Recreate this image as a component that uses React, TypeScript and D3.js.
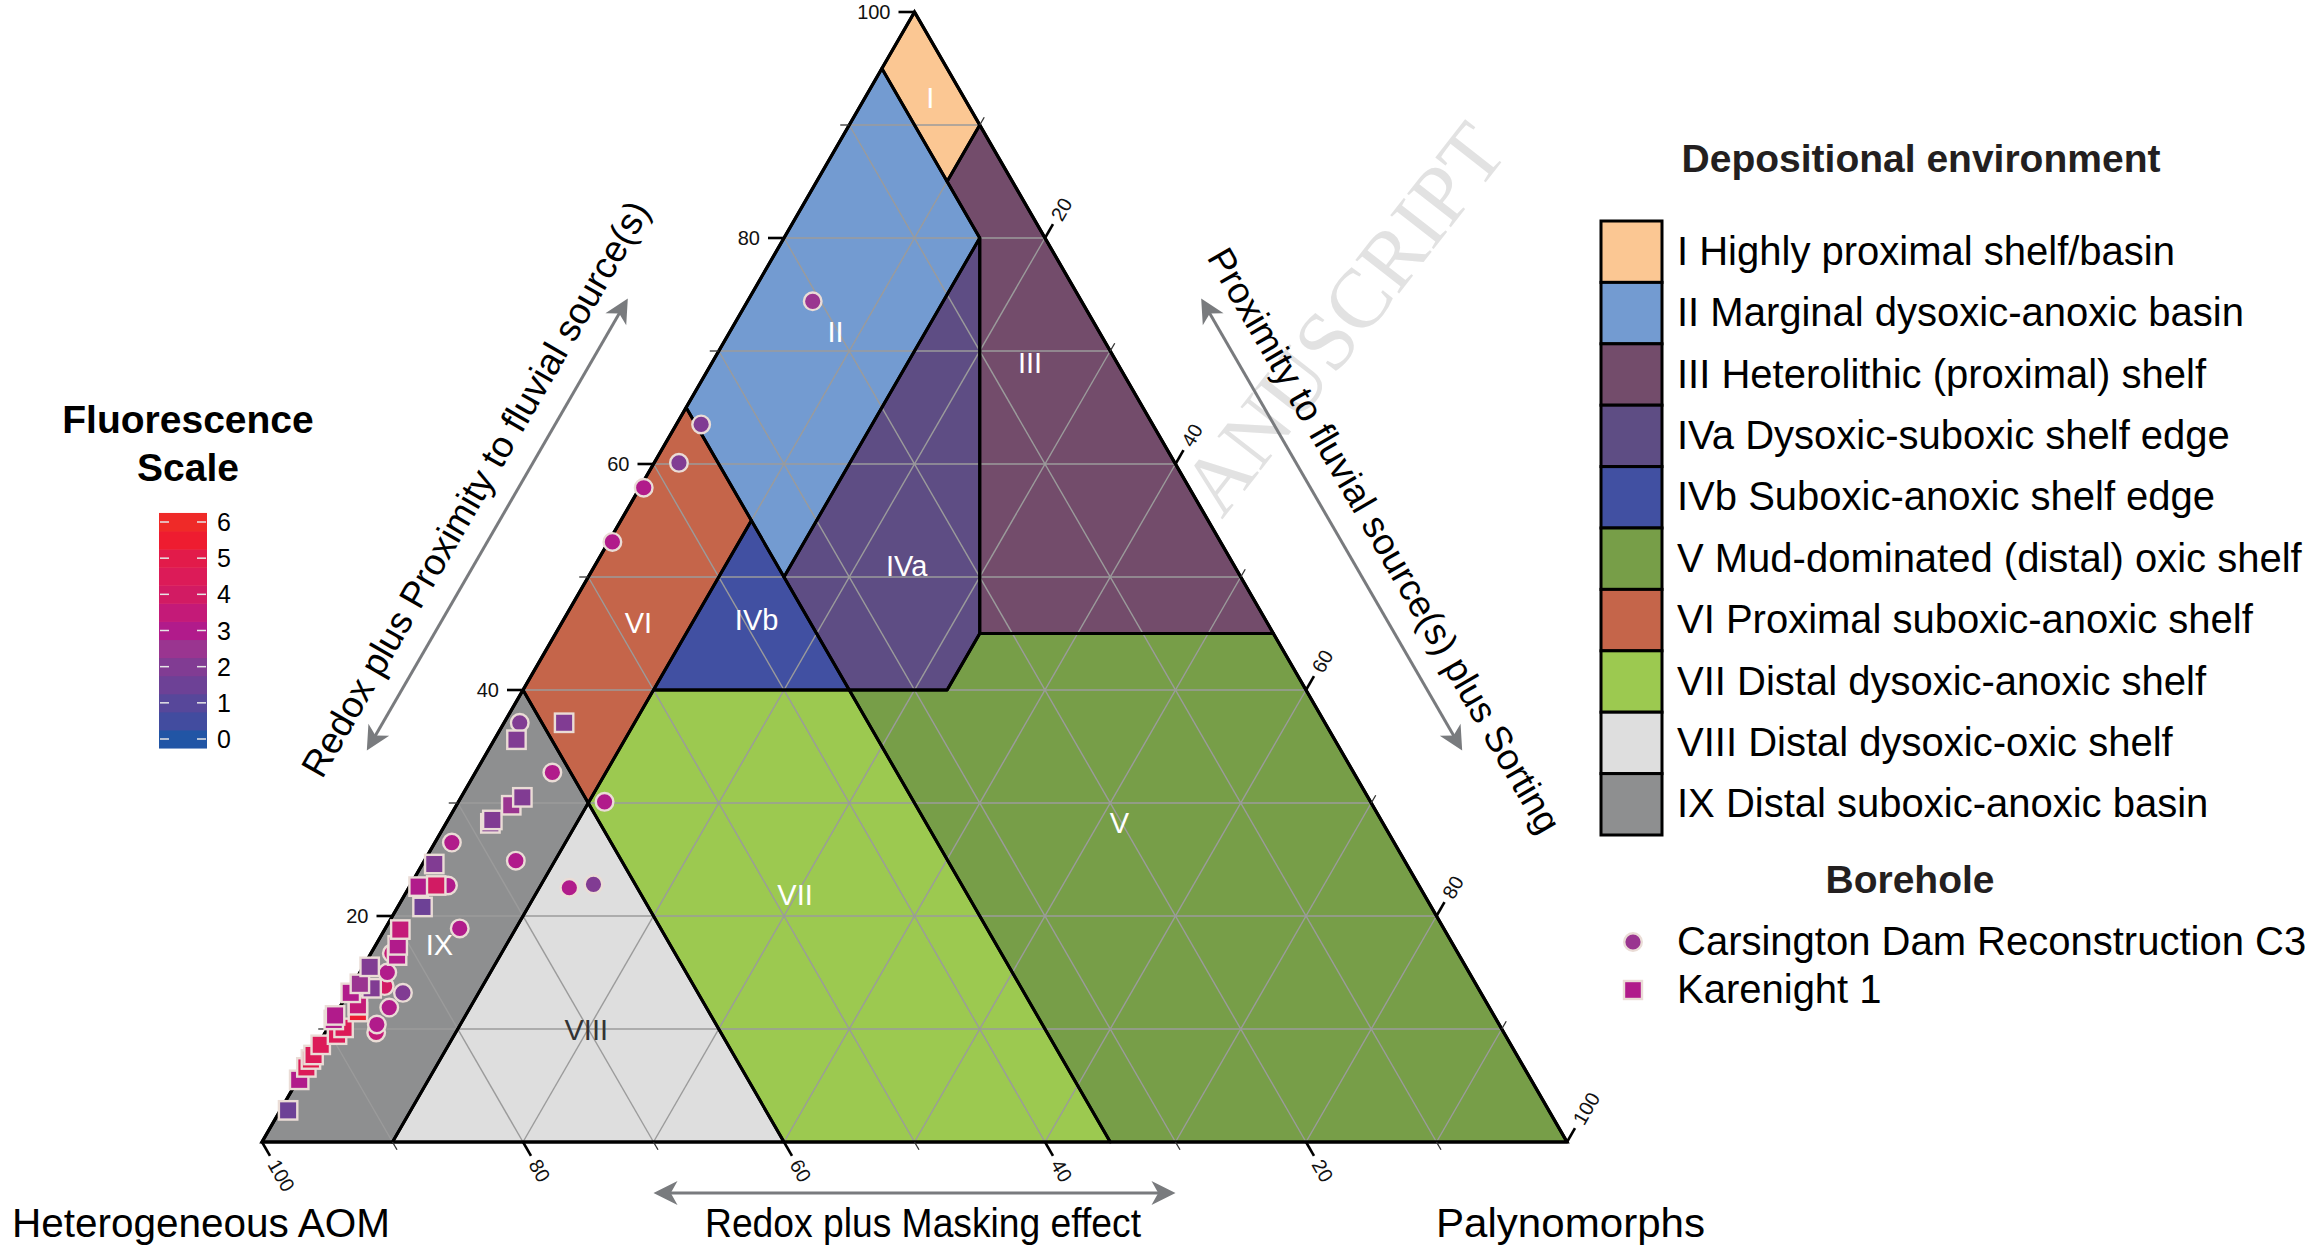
import React from 'react';
import * as d3 from 'd3';

// ---------------- data ----------------
const gridPercents = [10, 20, 30, 40, 50, 60, 70, 80, 90];
const majorTicks = [20, 40, 60, 80, 100];
const minorTicks = [10, 30, 50, 70, 90];

const zoneNames = ['I', 'II', 'III', 'IVa', 'IVb', 'V', 'VI', 'VII', 'VIII', 'IX'];
const zoneLegendLabels = [
  'I Highly proximal shelf/basin',
  'II Marginal dysoxic-anoxic basin',
  'III Heterolithic (proximal) shelf',
  'IVa Dysoxic-suboxic shelf edge',
  'IVb Suboxic-anoxic shelf edge',
  'V Mud-dominated (distal) oxic shelf',
  'VI Proximal suboxic-anoxic shelf',
  'VII Distal dysoxic-anoxic shelf',
  'VIII Distal dysoxic-oxic shelf',
  'IX Distal suboxic-anoxic basin',
];
const zoneFills = ['#fbc793', '#739bd1', '#734c6b', '#5e4d84', '#4150a2', '#779e48', '#c5654a', '#9cc950', '#dedede', '#8e8f90'];
const zoneLabelFills = ['#ffffff', '#ffffff', '#ffffff', '#ffffff', '#ffffff', '#ffffff', '#ffffff', '#ffffff', '#333333', '#ffffff'];

// zone vertices as [phytoclast %, palynomorph %] (AOM = remainder)
const zoneI = [[100, 0], [95, 0], [85, 10], [90, 10]];
const zoneII = [[95, 0], [85, 10], [80, 15], [50, 15], [65, 0]];
const zoneIII = [[90, 10], [85, 10], [80, 15], [45, 32.5], [45, 55]];
const zoneIVa = [[80, 15], [45, 32.5], [40, 32.5], [40, 25], [50, 15]];
const zoneIVb = [[55, 10], [40, 10], [40, 25]];
const zoneV = [[45, 55], [45, 32.5], [40, 32.5], [40, 25], [0, 65], [0, 100]];
const zoneVI = [[65, 0], [55, 10], [30, 10], [40, 0]];
const zoneVII = [[40, 10], [40, 25], [0, 65], [0, 40], [30, 10]];
const zoneVIII = [[30, 10], [0, 40], [0, 10]];
const zoneIX = [[40, 0], [30, 10], [0, 10], [0, 0]];
const zonePolygons = [zoneI, zoneII, zoneIII, zoneIVa, zoneIVb, zoneV, zoneVI, zoneVII, zoneVIII, zoneIX];
const zoneLabelAt = [[92.4, 5], [71.7, 8.1], [68.9, 24.4], [51, 23.9], [46.2, 14.8], [28.2, 51.6], [45.9, 5.9], [21.9, 29.9], [9.9, 19.9], [17.4, 4.9]];

// Carsington Dam Reconstruction C3 (circles)
const carsingtonPhyto = [37.1, 32.7, 30.1, 26.5, 24.9, 22.5, 22.8, 22.7, 18.9, 16.7, 15.0, 13.8, 13.2, 11.9, 10.4, 9.7, 74.4, 63.5, 60.1, 57.9, 53.1];
const carsingtonPaly = [1.2, 5.9, 11.2, 1.3, 7.0, 12.3, 14.0, 2.9, 5.7, 1.6, 2.1, 2.5, 4.2, 3.8, 3.6, 3.9, 5.0, 1.9, 1.9, 0.3, 0.3];
const carsingtonFluor = [2, 3, 3, 3, 3, 3, 2, 3, 3, 3.5, 3, 4, 2, 3, 3, 3.5, 2.5, 2, 2, 3, 3];

// Karenight 1 (squares)
const karenightPhyto = [37.1, 35.6, 30.5, 29.8, 28.5, 28.2, 24.6, 22.7, 22.6, 20.8, 18.8, 17.4, 16.5, 15.5, 14.0, 13.6, 13.2, 12.1, 11.5, 11.2, 10.8, 10.1, 9.5, 8.6, 7.7, 7.3, 6.6, 5.5, 2.8];
const karenightPaly = [4.6, 1.7, 4.7, 4.2, 3.4, 3.4, 0.9, 2.0, 0.7, 1.9, 1.2, 1.7, 2.1, 0.5, 0.5, 1.6, 0.2, 1.3, 1.6, 0.0, 0.1, 1.2, 1.0, 0.2, 0.1, 0.1, 0.1, 0.1, 0.6];
const karenightFluor = [2, 2, 2, 2.5, 2, 2, 2, 4, 3, 1.5, 3.5, 3, 3, 2, 2.5, 2, 3, 3.5, 5.5, 3, 3, 4.5, 4.5, 4.5, 4.5, 5, 4.5, 3, 1.5];

// Fluorescence colour scale
const fluorTicks = [0, 1, 2, 3, 4, 5, 6];
const fluorBandValues = [0, 0.5, 1, 1.5, 2, 2.5, 3, 3.5, 4, 4.5, 5, 5.5, 6];
const fluorBandColors = ['#2155a5', '#424c9f', '#57479a', '#6d4196', '#813c93', '#9a3590', '#b11b8b', '#c41a78', '#d21b63', '#dc1b58', '#e21b4a', '#ee1c30', '#ef2a28'];

const FONT = 'Liberation Sans, Arial, Helvetica, sans-serif';

export default function App() {
  const x = d3.scaleLinear().domain([0, 100]).range([262, 1567]);
  const y = d3.scaleLinear().domain([0, 100]).range([1142, 12]);
  const proj = (f: number, p: number): [number, number] => [x(p + f / 2), y(f)];
  const fluorColor = d3.scaleLinear<string>().domain(fluorBandValues).range(fluorBandColors).interpolate(d3.interpolateRgb);
  const cb = d3.scaleLinear().domain([0, 6]).range([739, 522]);
  const lineGen = d3.line();
  const polyPath = (pts: number[][]) => lineGen(pts.map(([f, p]) => proj(f, p))) + 'Z';

  // grid lines
  const grid: [number, number][][] = [];
  gridPercents.forEach((v) => {
    grid.push([proj(v, 0), proj(v, 100 - v)]);
    grid.push([proj(0, v), proj(100 - v, v)]);
    grid.push([proj(100 - v, 0), proj(0, 100 - v)]);
  });

  // axes definitions
  const s3 = Math.sqrt(3) / 2;
  const axes = [
    { base: (v: number) => proj(v, 0), dir: [-1, 0], rot: 0, anchor: 'end' },
    { base: (v: number) => proj(100 - v, v), dir: [0.5, -s3], rot: -60, anchor: 'start' },
    { base: (v: number) => proj(0, 100 - v), dir: [0.5, s3], rot: 60, anchor: 'start' },
  ];

  const circles = carsingtonPhyto
    .map((f, i) => ({ f, p: carsingtonPaly[i], v: carsingtonFluor[i] }))
    .sort((a, b) => a.f - b.f);
  const squares = karenightPhyto
    .map((f, i) => ({ f, p: karenightPaly[i], v: karenightFluor[i] }))
    .sort((a, b) => a.f - b.f);

  const arrowColor = '#797b7e';
  const Arrow = ({ a, b }: { a: [number, number]; b: [number, number] }) => {
    const dx = b[0] - a[0], dy = b[1] - a[1];
    const L = Math.hypot(dx, dy);
    const ux = dx / L, uy = dy / L, nx = -uy, ny = ux;
    const hl = 24, hw = 12;
    const head = (t: [number, number], sx: number, sy: number) =>
      `M${t[0]},${t[1]} L${t[0] + sx * hl + nx * hw},${t[1] + sy * hl + ny * hw} L${t[0] + sx * hl * 0.72},${t[1] + sy * hl * 0.72} L${t[0] + sx * hl - nx * hw},${t[1] + sy * hl - ny * hw} Z`;
    return (
      <g>
        <line x1={a[0] + ux * 12} y1={a[1] + uy * 12} x2={b[0] - ux * 12} y2={b[1] - uy * 12} stroke={arrowColor} strokeWidth={3} />
        <path d={head(a, ux, uy)} fill={arrowColor} />
        <path d={head(b, -ux, -uy)} fill={arrowColor} />
      </g>
    );
  };

  // arrows parallel to edges, spanning 30%..70% of each edge
  const offL = [-s3 * 105, -0.5 * 105];
  const offR = [s3 * 105, -0.5 * 105];
  const lA = proj(30, 0), lB = proj(70, 0);
  const leftArrow: [[number, number], [number, number]] = [[lA[0] + offL[0], lA[1] + offL[1]], [lB[0] + offL[0], lB[1] + offL[1]]];
  const rA = proj(70, 30), rB = proj(30, 70);
  const rightArrow: [[number, number], [number, number]] = [[rA[0] + offR[0], rA[1] + offR[1]], [rB[0] + offR[0], rB[1] + offR[1]]];
  const bA = proj(0, 30), bB = proj(0, 70);
  const bottomArrow: [[number, number], [number, number]] = [[bA[0], bA[1] + 51], [bB[0], bB[1] + 51]];

  const mid = (ar: [number, number][]) => [(ar[0][0] + ar[1][0]) / 2, (ar[0][1] + ar[1][1]) / 2];
  const lm = mid(leftArrow);
  const leftTitlePos = [lm[0] + 20 * 0.5 + 24 * -s3, lm[1] + 20 * -s3 + 24 * -0.5];
  const rm = mid(rightArrow);
  const rightTitlePos = [rm[0] + 40 * 0.5 + 25 * s3, rm[1] + 40 * s3 + 25 * -0.5];

  const legendTop = 221, legendStep = 61.4, swatchX = 1601, swatchW = 61;

  return (
    <svg width={2305} height={1246} style={{ position: 'absolute', left: 0, top: 0, background: '#fff' }} fontFamily={FONT}>
      <rect x={0} y={0} width={2305} height={1246} fill="#ffffff" />
      {/* watermark */}
      <text x={1222} y={520} transform="rotate(-52 1222 520)" fontFamily="Liberation Serif, Times New Roman, serif" fontSize={84} fill="#e2e2e2">
        ANUSCRIPT
      </text>

      {/* zone fills */}
      {zonePolygons.map((poly, i) => (
        <path key={'z' + i} d={polyPath(poly)} fill={zoneFills[i]} />
      ))}
      {/* grid */}
      {grid.map((g, i) => (
        <line key={'g' + i} x1={g[0][0]} y1={g[0][1]} x2={g[1][0]} y2={g[1][1]} stroke="#9b9b9b" strokeWidth={1.4} />
      ))}
      {/* zone borders */}
      {zonePolygons.map((poly, i) => (
        <path key={'zb' + i} d={polyPath(poly)} fill="none" stroke="#000" strokeWidth={3} strokeLinejoin="round" />
      ))}
      <path d={polyPath([[100, 0], [0, 0], [0, 100]])} fill="none" stroke="#000" strokeWidth={3.2} strokeLinejoin="miter" />

      {/* ticks */}
      {axes.map((ax, ai) => (
        <g key={'ax' + ai}>
          {minorTicks.map((v) => {
            const b = ax.base(v);
            return <line key={'mi' + v} x1={b[0]} y1={b[1]} x2={b[0] + ax.dir[0] * 9} y2={b[1] + ax.dir[1] * 9} stroke="#333" strokeWidth={1.3} />;
          })}
          {majorTicks.map((v) => {
            const b = ax.base(v);
            const lx = b[0] + ax.dir[0] * (ai === 0 ? 24 : 22);
            const ly = b[1] + ax.dir[1] * (ai === 0 ? 24 : 22);
            return (
              <g key={'ma' + v}>
                <line x1={b[0]} y1={b[1]} x2={b[0] + ax.dir[0] * 16} y2={b[1] + ax.dir[1] * 16} stroke="#000" strokeWidth={2.6} />
                <text x={lx} y={ly} transform={`rotate(${ax.rot} ${lx} ${ly})`} textAnchor={ax.anchor} dominantBaseline="central" fontSize={20} fill="#111">
                  {String(v)}
                </text>
              </g>
            );
          })}
        </g>
      ))}

      {/* zone labels */}
      {zoneNames.map((n, i) => {
        const [lx, ly] = proj(zoneLabelAt[i][0], zoneLabelAt[i][1]);
        return (
          <text key={'zl' + i} x={lx} y={ly} textAnchor="middle" dominantBaseline="central" fontSize={29} fill={zoneLabelFills[i]}>
            {n}
          </text>
        );
      })}

      {/* data points */}
      {circles.map((d, i) => {
        const [cx, cy] = proj(d.f, d.p);
        return <circle key={'c' + i} cx={cx} cy={cy} r={8.8} fill={fluorColor(d.v)} stroke="#eadcd6" strokeWidth={2.4} />;
      })}
      {squares.map((d, i) => {
        const [cx, cy] = proj(d.f, d.p);
        return <rect key={'s' + i} x={cx - 9.2} y={cy - 9.2} width={18.4} height={18.4} fill={fluorColor(d.v)} stroke="#eadcd6" strokeWidth={2.4} />;
      })}

      {/* arrows */}
      <Arrow a={leftArrow[0]} b={leftArrow[1]} />
      <Arrow a={rightArrow[0]} b={rightArrow[1]} />
      <Arrow a={bottomArrow[0]} b={bottomArrow[1]} />

      {/* axis titles */}
      <text x={leftTitlePos[0]} y={leftTitlePos[1]} transform={`rotate(-60 ${leftTitlePos[0]} ${leftTitlePos[1]})`} textAnchor="middle" fontSize={37} fill="#000">
        Redox plus Proximity to fluvial source(s)
      </text>
      <text x={rightTitlePos[0]} y={rightTitlePos[1]} transform={`rotate(60 ${rightTitlePos[0]} ${rightTitlePos[1]})`} textAnchor="middle" fontSize={37} fill="#000">
        Proximity to fluvial source(s) plus Sorting
      </text>
      <text x={12} y={1237} fontSize={40} textLength={378} lengthAdjust="spacingAndGlyphs" fill="#000">Heterogeneous AOM</text>
      <text x={705} y={1237} fontSize={40} textLength={436} lengthAdjust="spacingAndGlyphs" fill="#000">Redox plus Masking effect</text>
      <text x={1436} y={1237} fontSize={40} textLength={269} lengthAdjust="spacingAndGlyphs" fill="#000">Palynomorphs</text>

      {/* fluorescence colour bar */}
      <text x={188} y={433} textAnchor="middle" fontSize={39} fontWeight="bold" fill="#000">Fluorescence</text>
      <text x={188} y={481} textAnchor="middle" fontSize={39} fontWeight="bold" fill="#000">Scale</text>
      {fluorBandValues.map((v, i) => (
        <rect key={'cb' + i} x={159} y={cb(v + 0.25)} width={48} height={cb(v - 0.25) - cb(v + 0.25) + 0.5} fill={fluorBandColors[i]} />
      ))}
      {fluorTicks.map((v) => (
        <g key={'ct' + v}>
          <line x1={160} x2={169} y1={cb(v)} y2={cb(v)} stroke="#e6e6e6" strokeWidth={1.5} />
          <line x1={197} x2={206} y1={cb(v)} y2={cb(v)} stroke="#e6e6e6" strokeWidth={1.5} />
          <text x={217} y={cb(v)} dominantBaseline="central" fontSize={25} fill="#000">{String(v)}</text>
        </g>
      ))}

      {/* depositional environment legend */}
      <text x={1921} y={172} textAnchor="middle" fontSize={39} fontWeight="bold" fill="#231f20">Depositional environment</text>
      {zoneLegendLabels.map((lab, i) => {
        const top = legendTop + i * legendStep;
        return (
          <g key={'lg' + i}>
            <rect x={swatchX} y={top} width={swatchW} height={legendStep} fill={zoneFills[i]} stroke="#000" strokeWidth={3} />
            <text x={1677} y={top + legendStep / 2 + 13} fontSize={40} fill="#000">{lab}</text>
          </g>
        );
      })}

      {/* borehole legend */}
      <text x={1910} y={893} textAnchor="middle" fontSize={39} fontWeight="bold" fill="#231f20">Borehole</text>
      <circle cx={1633} cy={942} r={8.8} fill={fluorColor(2.5)} stroke="#eadcd6" strokeWidth={2.4} />
      <text x={1677} y={955} fontSize={40} fill="#000">Carsington Dam Reconstruction C3</text>
      <rect x={1624} y={981} width={18} height={18} fill={fluorColor(3)} stroke="#eadcd6" strokeWidth={2.4} />
      <text x={1677} y={1003} fontSize={40} fill="#000">Karenight 1</text>
    </svg>
  );
}
